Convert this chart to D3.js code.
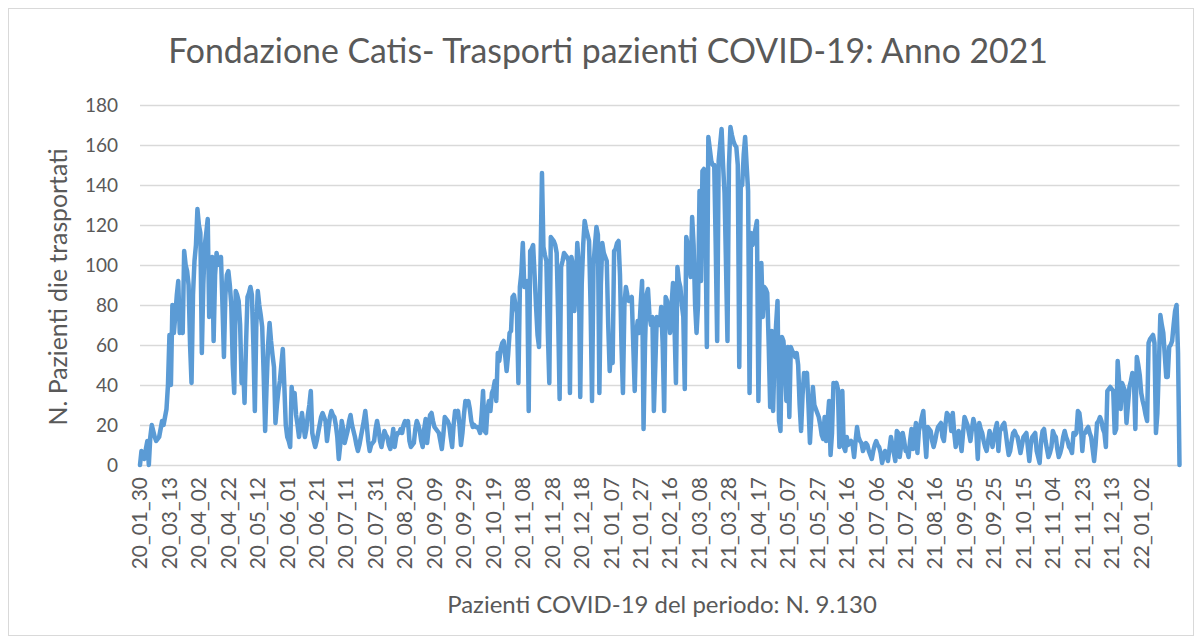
<!doctype html>
<html lang="it">
  <head>
    <meta charset="utf-8">
    <title>Fondazione Catis - Trasporti pazienti COVID-19</title>
    <script src="https://d3js.org/d3.v7.min.js"></script>
    <style>
      body { margin: 0; background: #ffffff; }
      text { font-family: Lato, "Open Sans", sans-serif; fill: #595959; }
    </style>
  </head>
  <body>
    <div id="chart"></div>
    <script>
    // Texts of the chart
    const chartTitle = "Fondazione Catis- Trasporti pazienti COVID-19: Anno 2021"
    const yAxisTitle = "N. Pazienti die trasportati"
    const xAxisTitle = "Pazienti COVID-19 del periodo: N. 9.130"

    // One label every 20 days on the category axis
    const tickStep = 20
    const tickLabels = [
      "20_01_30", "20_03_13", "20_04_02", "20_04_22", "20_05_12", "20_06_01", "20_06_21",
      "20_07_11", "20_07_31", "20_08_20", "20_09_09", "20_09_29", "20_10_19", "20_11_08",
      "20_11_28", "20_12_18", "21_01_07", "21_01_27", "21_02_16", "21_03_08", "21_03_28",
      "21_04_17", "21_05_07", "21_05_27", "21_06_16", "21_07_06", "21_07_26", "21_08_16",
      "21_09_05", "21_09_25", "21_10_15", "21_11_04", "21_11_23", "21_12_13", "22_01_02"
    ]
    const yTicks = [0, 20, 40, 60, 80, 100, 120, 140, 160, 180]

    // Patients transported per day
    const transportsPerDay = [
      0,7,5,3,8,12,0,14,20,17, 14,12,13,14,18,22,20,24,28,40,
      65,40,80,66,75,85,92,66,68,66, 107,100,97,90,60,41,85,102,110,128,
      120,116,56,90,110,116,123,74,90,104, 62,95,106,102,100,104,80,54,
      85,95,97,90,80,50,36,87,85,82, 70,41,50,31,60,84,86,89,85,60,
      27,70,87,80,75,69,45,17,40,60, 71,62,55,49,21,30,37,42,50,58,
      40,20,14,12,9,39,30,36,25,20, 14,20,26,20,14,18,25,30,37,
      16,12,9,12,16,20,24,26,24,22, 12,18,24,27,25,24,20,14,3,10,
      22,18,11,14,17,22,25,20,17,14, 10,7,10,14,18,22,27,20,12,7,
      10,11,12,18,22,18,12,9,13,17, 15,14,10,8,12,18,9,14,16,
      16,18,16,20,22,20,22,12,9,10, 11,18,22,20,17,12,9,18,23,11,
      18,25,26,22,19,18,17,16,12,8, 15,24,23,22,20,14,9,20,27,26,
      27,20,10,16,25,32,30,32,28,22, 19,20,19,19,18,16,25,37,
      17,16,28,32,27,36,38,42,32,56, 52,58,61,62,55,47,55,66,67,84,
      85,80,76,41,89,96,111,89,90,92, 27,107,108,110,95,79,65,59,100,146,
      109,105,102,66,41,114,113,112,110,106, 74,33,99,102,106,105,104,102,
      36,104,100,77,89,111,100,34,90,110, 122,118,115,112,80,32,100,110,119,115,
      36,90,111,106,104,102,70,47,60,51, 107,108,111,112,95,60,36,80,89,85,
      82,83,84,60,37,65,72,66,80,92, 18,60,85,88,75,70,74,27,
      50,74,72,70,79,60,27,84,82,75, 66,80,91,70,41,99,92,89,80,74,
      38,114,110,100,94,124,110,80,66,80, 137,92,147,148,120,59,164,158,152,150,
      150,110,62,152,160,168,150,136,100,62, 150,169,165,162,160,159,150,
      49,139,140,155,164,150,137,36,116,110, 114,118,122,32,80,101,74,89,88,86,
      60,29,67,27,56,70,82,22,17,64, 62,50,32,59,24,59,57,56,54,56,
      50,30,17,35,46,45,46,30,11,25, 39,30,28,26,24,20,15,13,24,12,
      22,32,5,16,41,40,41,38,9,20, 37,9,7,14,10,11,12,10,4,12,
      19,14,12,11,7,9,11,10,7,5, 3,7,10,12,10,9,6,1,4,7,
      5,2,8,14,10,6,2,17,16,4, 10,16,12,7,7,4,12,18,
      8,15,21,6,17,20,24,27,14,4, 19,18,17,12,9,12,16,19,20,21,
      14,12,20,26,25,24,17,26,16,9, 14,17,12,7,16,24,22,20,16,12,
      18,23,20,17,3,21,18,16,12,9, 7,12,17,14,9,14,18,21,7,
      17,18,20,21,16,10,5,7,12,16, 17,15,14,10,6,10,14,15,16,9,
      2,10,14,15,16,7,4,1,12,17, 18,12,8,4,6,9,17,15,14,8,
      4,6,9,14,17,14,12,9,8,6, 16,15,16,27,26,20,7,16,16,
      18,19,16,14,8,2,10,21,22,24, 22,18,16,9,37,38,39,38,37,16,
      18,52,42,28,41,39,37,21,30,39, 42,46,44,18,54,50,45,36,32,29,
      25,22,61,63,64,65,61,16,26,50, 75,70,66,55,44,44,59,60,62,70,
      77,80,56,0
    ]

    const width = 1202
    const height = 644
    const plot = {left: 140, right: 1179.5, top: 105, bottom: 465}
    const lineColor = "#5b9bd5"
    const gridColor = "#d9d9d9"

    const svg = d3.select("#chart")
      .append("svg")
        .attr("width", width)
        .attr("height", height)

    // chart frame
    svg.append("rect")
      .attr("x", 8.5)
      .attr("y", 8.5)
      .attr("width", width - 17)
      .attr("height", height - 17)
      .attr("fill", "#ffffff")
      .attr("stroke", gridColor)

    const x = d3.scaleLinear()
      .domain([0, transportsPerDay.length - 1])
      .range([plot.left, plot.right])

    const y = d3.scaleLinear()
      .domain([0, 180])
      .range([plot.bottom, plot.top])

    // y axis with gridlines
    const yAxis = svg.append("g")
      .attr("transform", `translate(${plot.left},0)`)
      .call(d3.axisLeft(y).tickValues(yTicks).tickSize(-(plot.right - plot.left)).tickPadding(22))
    yAxis.select(".domain").remove()
    yAxis.selectAll(".tick line").attr("stroke", gridColor).attr("stroke-width", 1.3)
    yAxis.selectAll(".tick text")
      .attr("font-size", 19)
      .attr("font-family", "Lato, sans-serif")
      .attr("fill", "#595959")

    // category labels, rotated
    svg.append("g")
      .selectAll("text")
      .data(tickLabels)
      .join("text")
        .attr("transform", (d, i) => `translate(${x(i * tickStep)},${plot.bottom + 12}) rotate(-90)`)
        .attr("text-anchor", "end")
        .attr("dy", "0.35em")
        .attr("font-size", 21)
        .text(d => d)

    // the daily series
    const line = d3.line()
      .x((d, i) => x(i))
      .y(d => y(d))

    svg.append("path")
      .datum(transportsPerDay)
      .attr("d", line)
      .attr("fill", "none")
      .attr("stroke", lineColor)
      .attr("stroke-width", 4.5)
      .attr("stroke-linejoin", "round")
      .attr("stroke-linecap", "round")

    // fit a text element to a measured width
    function fitWidth(sel, target) {
      const size = parseFloat(sel.attr("font-size"))
      const w = sel.node().getComputedTextLength()
      sel.attr("font-size", size * target / w)
    }

    const title = svg.append("text")
      .attr("x", 608)
      .attr("y", 63)
      .attr("text-anchor", "middle")
      .attr("font-size", 31)
      .text(chartTitle)
    fitWidth(title, 880)

    const yTitle = svg.append("text")
      .attr("transform", "translate(67,287) rotate(-90)")
      .attr("text-anchor", "middle")
      .attr("font-size", 20)
      .text(yAxisTitle)
    fitWidth(yTitle, 277)

    const xTitle = svg.append("text")
      .attr("x", 662)
      .attr("y", 613)
      .attr("text-anchor", "middle")
      .attr("font-size", 20)
      .text(xAxisTitle)
    fitWidth(xTitle, 430)
    </script>
  </body>
</html>
